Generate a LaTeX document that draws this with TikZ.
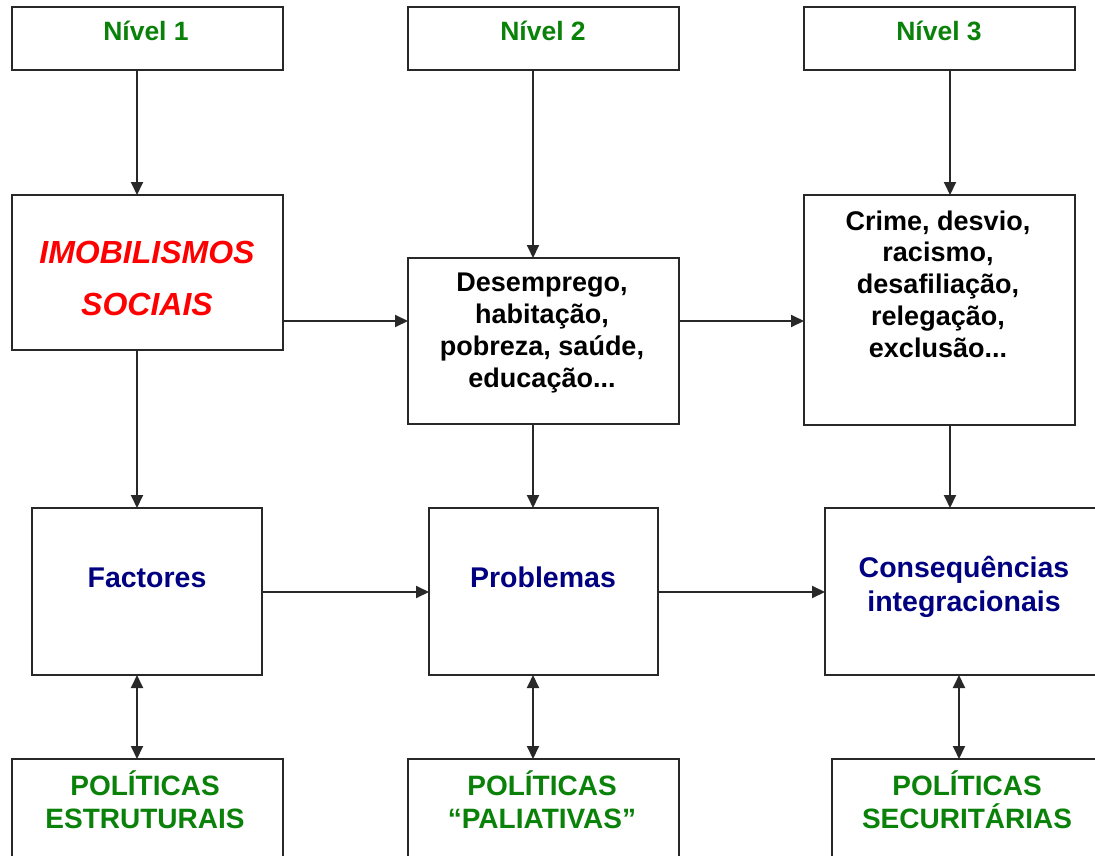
\documentclass[tikz,border=0pt]{standalone}
\usepackage{fontspec}
\setmainfont{Liberation Sans}
\usetikzlibrary{arrows.meta}
\definecolor{lvgreen}{RGB}{10,130,10}
\definecolor{lvblue}{RGB}{0,0,128}
\definecolor{lvred}{RGB}{255,0,0}
\definecolor{lnk}{RGB}{40,40,40}
\tikzset{
  box/.style={draw=lnk, line width=1.9pt, rectangle, inner sep=0pt, outer sep=0pt, fill=white},
  lbl/.style={anchor=base, align=center, inner sep=0pt, font=\bfseries},
  arr/.style={draw=lnk, line width=1.9pt, -{Triangle[length=13pt,width=12pt]}},
  darr/.style={draw=lnk, line width=1.9pt, {Triangle[length=13pt,width=12pt]}-{Triangle[length=13pt,width=12pt]}},
}
\begin{document}
\begin{tikzpicture}[x=1pt,y=-1pt]
\useasboundingbox (0,0) rectangle (1095,856);
\clip (0,0) rectangle (1095,856);
% boxes
\node[box, minimum width=271pt, minimum height=63pt] (n1) at (147.5,38.5) {};
\node[box, minimum width=271pt, minimum height=63pt] (n2) at (543.5,38.5) {};
\node[box, minimum width=271pt, minimum height=63pt] (n3) at (939.5,38.5) {};
\node[box, minimum width=271pt, minimum height=155pt] (imob) at (147.5,272.5) {};
\node[box, minimum width=271pt, minimum height=166pt] (desemp) at (543.5,341) {};
\node[box, minimum width=271pt, minimum height=230pt] (crime) at (939.5,310) {};
\node[box, minimum width=230pt, minimum height=167pt] (fact) at (147,591.5) {};
\node[box, minimum width=229pt, minimum height=167pt] (prob) at (543.5,591.5) {};
\node[box, minimum width=278pt, minimum height=167pt] (conseq) at (964,591.5) {};
\node[box, minimum width=271pt, minimum height=121pt] (pol1) at (147.5,819.5) {};
\node[box, minimum width=271pt, minimum height=121pt] (pol2) at (543.5,819.5) {};
\node[box, minimum width=271pt, minimum height=121pt] (pol3) at (967.5,819.5) {};
% texts (anchor base = baseline of last line)
\node[lbl, text=lvgreen, font=\bfseries\fontsize{26.5}{31}\selectfont] (t1) at (146,41) {Nível 1};
\node[lbl, text=lvgreen, font=\bfseries\fontsize{26.5}{31}\selectfont] (t2) at (543,41) {Nível 2};
\node[lbl, text=lvgreen, font=\bfseries\fontsize{26.5}{31}\selectfont] (t3) at (939,41) {Nível 3};
\node[lbl, text=lvred, font=\bfseries\itshape\fontsize{32}{52}\selectfont] (timob) at (147,315) {IMOBILISMOS\\SOCIAIS};
\node[lbl, font=\bfseries\fontsize{27}{31.7}\selectfont] (tdes) at (542,387) {Desemprego,\\habitação,\\pobreza, saúde,\\educação...};
\node[lbl, font=\bfseries\fontsize{27}{31.7}\selectfont] (tcrime) at (938,357) {Crime, desvio,\\racismo,\\desafiliação,\\relegação,\\exclusão...};
\node[lbl, text=lvblue, font=\bfseries\fontsize{28.5}{34}\selectfont] (tfact) at (147,587) {Factores};
\node[lbl, text=lvblue, font=\bfseries\fontsize{28.5}{34}\selectfont] (tprob) at (543,587) {Problemas};
\node[lbl, text=lvblue, font=\bfseries\fontsize{28.5}{34}\selectfont] (tcons) at (964,611) {Consequências\\integracionais};
\node[lbl, text=lvgreen, font=\bfseries\fontsize{28}{33}\selectfont] (tp1) at (145,828) {POLÍTICAS\\ESTRUTURAIS};
\node[lbl, text=lvgreen, font=\bfseries\fontsize{28}{33}\selectfont] (tp2) at (542,828) {POLÍTICAS\\“PALIATIVAS”};
\node[lbl, text=lvgreen, font=\bfseries\fontsize{28}{33}\selectfont] (tp3) at (967,828) {POLÍTICAS\\SECURITÁRIAS};
% helper rows and columns
\coordinate (rowA) at (0,321);
\coordinate (rowB) at (0,592);
\coordinate (colA) at (137,0);
\coordinate (colB) at (533,0);
\coordinate (colC) at (950,0);
\coordinate (colD) at (959,0);
% vertical arrows
\draw[arr] (n1.south -| colA) -- (imob.north -| colA);
\draw[arr] (n2.south -| colB) -- (desemp.north -| colB);
\draw[arr] (n3.south -| colC) -- (crime.north -| colC);
\draw[arr] (imob.south -| colA) -- (fact.north -| colA);
\draw[arr] (desemp.south -| colB) -- (prob.north -| colB);
\draw[arr] (crime.south -| colC) -- (conseq.north -| colC);
% horizontal arrows
\draw[arr] (imob.east |- rowA) -- (desemp.west |- rowA);
\draw[arr] (desemp.east |- rowA) -- (crime.west |- rowA);
\draw[arr] (fact.east |- rowB) -- (prob.west |- rowB);
\draw[arr] (prob.east |- rowB) -- (conseq.west |- rowB);
% double arrows
\draw[darr] (fact.south -| colA) -- (pol1.north -| colA);
\draw[darr] (prob.south -| colB) -- (pol2.north -| colB);
\draw[darr] (conseq.south -| colD) -- (pol3.north -| colD);
\end{tikzpicture}
\end{document}
